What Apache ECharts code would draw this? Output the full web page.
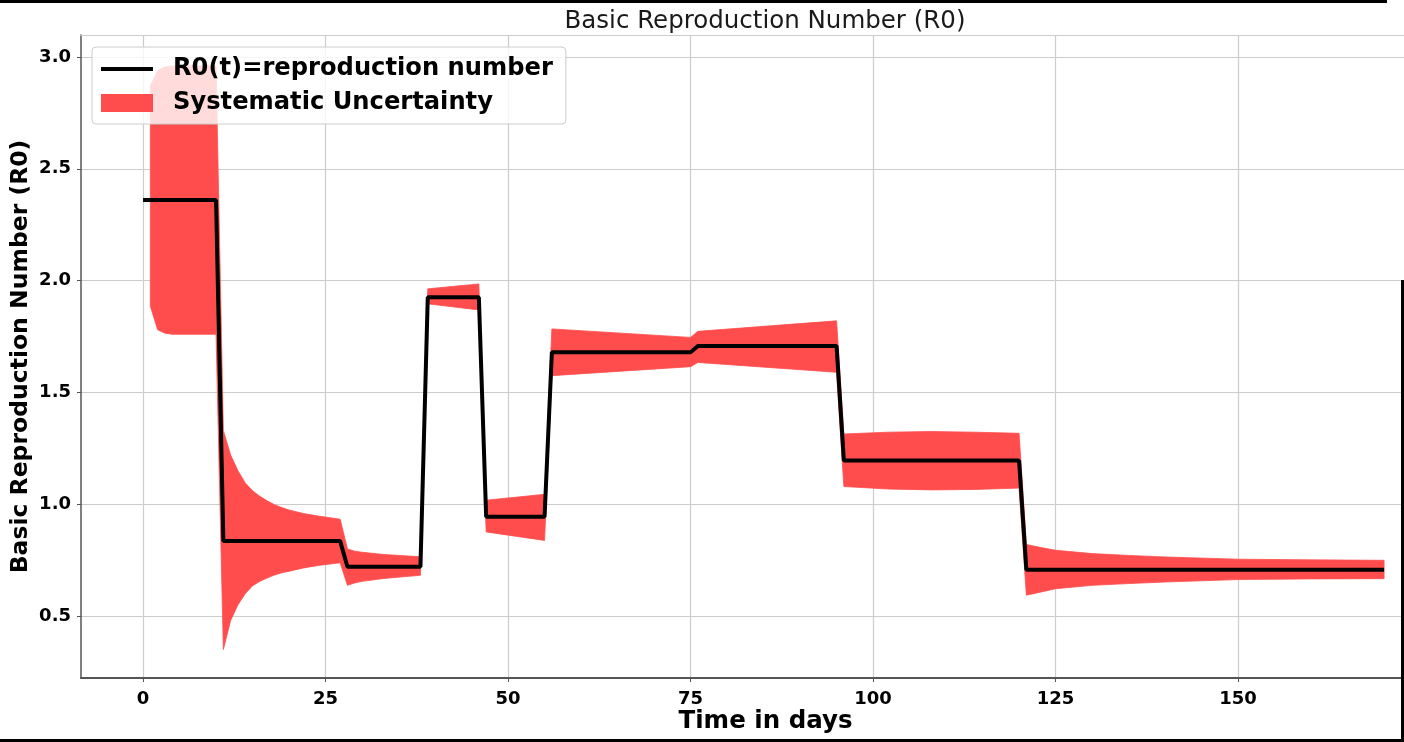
<!DOCTYPE html>
<html>
<head>
<meta charset="utf-8">
<script src="https://cdn.jsdelivr.net/npm/echarts@6/dist/echarts.min.js"></script>
<style>
html,body{margin:0;padding:0;background:#fff;}
#chart{width:1404px;height:742px;}
</style>
</head>
<body>
<div id="chart"></div>
<script>
// ---- data ----
var titleText = 'Basic Reproduction Number (R0)';
var xAxisName = 'Time in days';
var yAxisName = 'Basic Reproduction Number (R0)';
var lineName = 'R0(t)=reproduction number';
var bandName = 'Systematic Uncertainty';

var xTicks = [0, 25, 50, 75, 100, 125, 150];
var yTicks = [0.5, 1.0, 1.5, 2.0, 2.5, 3.0];

// R0(t) line (days, values)
var lineDays   = [0, 10, 11, 27, 28, 38, 39, 46, 47, 55, 56, 75, 76, 95, 96, 120, 121, 170];
var lineValues = [2.36, 2.36, 0.835, 0.835, 0.72, 0.72, 1.925, 1.925, 0.944, 0.944, 1.679, 1.679, 1.708, 1.708, 1.195, 1.195, 0.707, 0.707];

// uncertainty band (days, lower, upper)
var bandDays  = [1, 2, 3, 4, 10, 11, 12, 13, 14, 15, 16, 17, 18, 19, 20, 22, 24, 27,
                 28, 29, 30, 33, 38, 39, 46, 47, 55, 56, 75, 76, 95,
                 96, 102, 108, 114, 120, 121, 123, 125, 130, 135, 140, 150, 160, 170];
var bandLower = [1.885, 1.78, 1.765, 1.76, 1.76, 0.35, 0.48, 0.55, 0.60, 0.635, 0.655, 0.67, 0.683, 0.693, 0.70, 0.715, 0.726, 0.738,
                 0.637, 0.648, 0.655, 0.668, 0.682, 1.896, 1.869, 0.876, 0.838, 1.575, 1.615, 1.634, 1.59,
                 1.079, 1.068, 1.064, 1.066, 1.072, 0.593, 0.607, 0.622, 0.637, 0.645, 0.652, 0.663, 0.666, 0.667];
var bandUpper = [2.87, 2.94, 2.955, 2.96, 2.96, 1.33, 1.22, 1.15, 1.095, 1.06, 1.035, 1.015, 0.998, 0.985, 0.974, 0.958, 0.947, 0.933,
                 0.80, 0.79, 0.785, 0.775, 0.765, 1.963, 1.985, 1.018, 1.044, 1.784, 1.746, 1.773, 1.82,
                 1.314, 1.322, 1.325, 1.322, 1.317, 0.82, 0.806, 0.794, 0.779, 0.771, 0.764, 0.754, 0.751, 0.749];

// ---- build series data ----
var lineData = lineDays.map(function (d, i) { return [d, lineValues[i]]; });
var bandData = bandDays.map(function (d, i) { return [d, bandLower[i], bandUpper[i]]; });

var X_MIN = -8.5, X_MAX = 172.73, Y_MIN = 0.2227, Y_MAX = 3.0984;
var RED = '#ff4d4d';
var FONT = 'DejaVu Sans';

function renderBand(params, api) {
  if (params.dataIndex !== 0) return null;
  var pts = [];
  var i;
  for (i = 0; i < bandData.length; i++) pts.push(api.coord([bandData[i][0], bandData[i][2]]));
  for (i = bandData.length - 1; i >= 0; i--) pts.push(api.coord([bandData[i][0], bandData[i][1]]));
  return {
    type: 'polygon',
    shape: {points: pts},
    style: {fill: RED, stroke: RED, lineWidth: 0.8}
  };
}

var chart = echarts.init(document.getElementById('chart'), null, {renderer: 'canvas'});
chart.setOption({
  animation: false,
  backgroundColor: '#ffffff',
  title: {
    text: titleText,
    left: 765, top: 9, textAlign: 'center', padding: 0,
    textStyle: {fontFamily: FONT, fontSize: 24.5, fontWeight: 'normal', color: '#1a1a1a'}
  },
  grid: {
    left: 81, right: 0, top: 35, bottom: 64, show: false,
    containLabel: false, outerBoundsMode: 'none'
  },
  legend: {
    orient: 'vertical', left: 92, top: 47,
    padding: [8, 13, 7, 7],
    itemWidth: 52, itemHeight: 18, itemGap: 6,
    backgroundColor: 'rgba(255,255,255,0.8)',
    borderColor: '#cccccc', borderWidth: 1, borderRadius: 4,
    textStyle: {fontFamily: FONT, fontSize: 24.2, fontWeight: 'bold', color: '#000', lineHeight: 28, padding: [0, 0, 0, 15]},
    data: [
      {name: lineName, itemStyle: {color: 'rgba(0,0,0,0)', borderWidth: 0, opacity: 0}, lineStyle: {color: '#000', width: 4}},
      {name: bandName, icon: 'rect', itemStyle: {color: RED, opacity: 1}}
    ]
  },
  xAxis: [{
    type: 'value', min: X_MIN, max: X_MAX,
    name: xAxisName, nameLocation: 'middle', nameGap: 31, nameMoveOverlap: false,
    nameTextStyle: {fontFamily: FONT, fontSize: 24.5, fontWeight: 'bold', color: '#000', padding: [0, 0, 0, 46]},
    axisLine: {show: true, onZero: false, lineStyle: {color: '#555', width: 2.2}},
    axisTick: {show: true, length: 4, lineStyle: {color: '#555', width: 1}, customValues: xTicks},
    axisLabel: {customValues: xTicks, margin: 12, fontFamily: FONT, fontSize: 18, fontWeight: 'bold', color: '#000'},
    splitLine: {show: true, lineStyle: {color: '#cccccc', width: 1.2}}
  }, {
    type: 'value', position: 'top', min: X_MIN, max: X_MAX,
    axisLine: {show: true, onZero: false, lineStyle: {color: '#cccccc', width: 1.2}},
    axisTick: {show: false}, axisLabel: {show: false}, splitLine: {show: false}
  }],
  yAxis: {
    type: 'value', min: Y_MIN, max: Y_MAX,
    name: yAxisName, nameLocation: 'middle', nameGap: 48, nameRotate: 90, nameMoveOverlap: false,
    nameTextStyle: {fontFamily: FONT, fontSize: 23.5, fontWeight: 'bold', color: '#000'},
    axisLine: {show: true, onZero: false, lineStyle: {color: '#555', width: 1.5}},
    axisTick: {show: true, length: 4, lineStyle: {color: '#555', width: 1}, customValues: yTicks},
    axisLabel: {customValues: yTicks, margin: 10, fontFamily: FONT, fontSize: 18, fontWeight: 'bold', color: '#000',
      formatter: function (v) { return Number(v).toFixed(1); }},
    splitLine: {show: true, lineStyle: {color: '#cccccc', width: 1.2}}
  },
  graphic: [
    {type: 'rect', shape: {x: 0, y: 0, width: 1387, height: 3}, style: {fill: '#000'}, z: 100},
    {type: 'rect', shape: {x: 0, y: 739, width: 1404, height: 3}, style: {fill: '#000'}, z: 100},
    {type: 'rect', shape: {x: 1401, y: 280, width: 3, height: 462}, style: {fill: '#000'}, z: 100}
  ],
  series: [
    {
      name: bandName, type: 'custom', data: bandData,
      encode: {x: 0, y: [1, 2]},
      renderItem: renderBand, silent: true,
      itemStyle: {color: RED}, z: 2
    },
    {
      name: lineName, type: 'line', data: lineData,
      symbol: 'none', lineStyle: {color: '#000', width: 4}, itemStyle: {color: '#000'}, z: 3
    }
  ]
});
</script>
</body>
</html>
